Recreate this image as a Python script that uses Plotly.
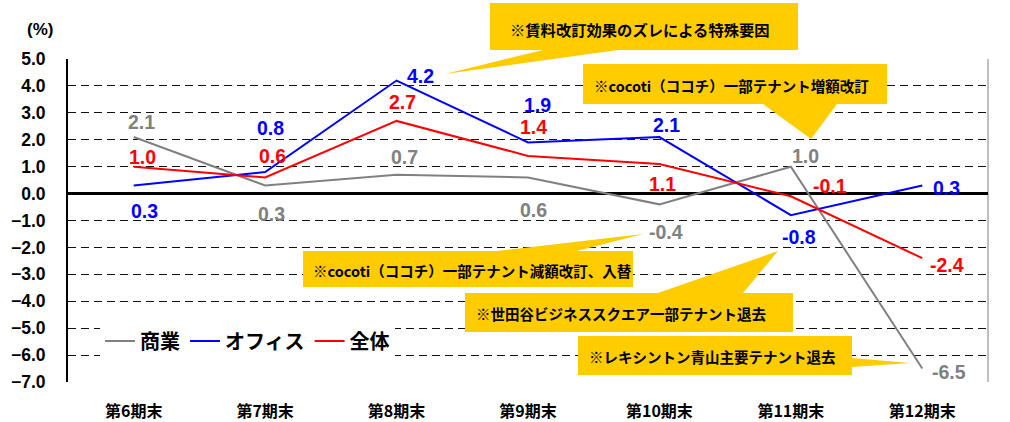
import plotly.graph_objects as go

# ---- data ----
categories = ["第6期末", "第7期末", "第8期末", "第9期末", "第10期末", "第11期末", "第12期末"]
commercial = [2.1, 0.3, 0.7, 0.6, -0.4, 1.0, -6.5]   # 商業
office = [0.3, 0.8, 4.2, 1.9, 2.1, -0.8, 0.3]        # オフィス
total = [1.0, 0.6, 2.7, 1.4, 1.1, -0.1, -2.4]        # 全体
series_names = ["商業", "オフィス", "全体"]
y_ticks = [5, 4, 3, 2, 1, 0, -1, -2, -3, -4, -5, -6, -7]
callout_texts = [
    "※賃料改訂効果のズレによる特殊要因",
    "※cocoti（ココチ）一部テナント増額改訂",
    "※cocoti（ココチ）一部テナント減額改訂、入替",
    "※世田谷ビジネススクエア一部テナント退去",
    "※レキシントン青山主要テナント退去",
]

# ---- style ----
W, H = 1010, 422
ML, MR, MT, MB = 68, 22, 59, 40
PW, PH = W - ML - MR, H - MT - MB
colors = ["#808080", "#0000FF", "#FF0000"]
LATIN = "Liberation Sans, Arial, Noto Sans CJK JP, sans-serif"
CJK = "Noto Sans CJK JP, sans-serif"

# label offsets (px) for each series' value labels
offsets = [
    [(8, -15), (6, 28), (8, -18), (5, 33), (7, 28), (15, -11), (27, 3)],
    [(11, 25), (5, -44), (24, -5), (9, -37), (7, -12), (8, 22), (24, 2)],
    [(9, -10), (7, -21), (6, -19), (5, -29), (3, 20), (39, -10), (25, 7)],
]

def px(x):
    return (x - ML) / PW

def py(y):
    return (H - MB - y) / PH

xs = list(range(len(categories)))
fig = go.Figure()
for name, vals, col in zip(series_names, [commercial, office, total], colors):
    fig.add_trace(go.Scatter(x=xs, y=vals, mode="lines", name=name,
                             line=dict(color=col, width=2)))

annotations = []
for vals, col, offs in zip([commercial, office, total], colors, offsets):
    for i, v in enumerate(vals):
        dx, dy = offs[i]
        annotations.append(dict(x=i, y=v, xref="x", yref="y", text=f"{v:.1f}",
                                showarrow=False, xshift=dx, yshift=-dy,
                                font=dict(family=LATIN, size=19.5, color=col, weight="bold")))

# callouts (pixel polygons, converted to paper coords)
callout_polys = [
    [(490, 3), (798, 3), (798, 50), (618, 50), (445, 74), (543, 50), (490, 50)],
    [(583, 64), (887, 64), (887, 104), (837, 104), (811, 139), (763, 104), (583, 104)],
    [(303, 251), (497, 251), (643, 234), (577, 251), (633, 251), (633, 287), (303, 287)],
    [(465, 293), (658, 293), (778, 251), (743, 293), (793, 293), (793, 332), (465, 332)],
    [(578, 336), (852, 336), (852, 358), (910, 363), (852, 367), (852, 375), (578, 375)],
]
callout_text_pos = [(508, 29), (592, 85), (311, 270), (474, 313), (587, 356)]
callout_sizes = [15.3, 14.5, 14.5, 14.5, 14.5]

shapes = []
for poly in callout_polys:
    path = "M" + " L".join(f"{px(x):.5f},{py(y):.5f}" for x, y in poly) + " Z"
    shapes.append(dict(type="path", path=path, xref="paper", yref="paper",
                       fillcolor="#FFCC00", line=dict(width=0), layer="above"))
for txt, (tx, ty), fs in zip(callout_texts, callout_text_pos, callout_sizes):
    annotations.append(dict(x=px(tx), y=py(ty), xref="paper", yref="paper", text=txt,
                            showarrow=False, xanchor="left", yanchor="middle",
                            font=dict(family=CJK, size=fs, color="black", weight="bold")))

# right border
shapes.append(dict(type="line", xref="paper", yref="paper", x0=1, x1=1, y0=0, y1=1,
                   line=dict(color="#808080", width=1), layer="below"))

annotations.append(dict(x=px(25), y=py(18), xref="paper", yref="paper", text="(%)",
                        showarrow=False, font=dict(family=LATIN, size=17, color="black", weight="bold")))

fig.update_layout(
    width=W, height=H,
    margin=dict(l=ML, r=MR, t=MT, b=MB, pad=0, autoexpand=False),
    paper_bgcolor="white", plot_bgcolor="white",
    showlegend=True,
    legend=dict(orientation="h", x=px(100), y=py(341), xanchor="left", yanchor="middle",
                bgcolor="white", font=dict(family=CJK, size=20, color="black", weight="bold"),
                itemwidth=30, tracegroupgap=0),
    shapes=shapes,
    annotations=annotations,
    xaxis=dict(range=[-0.5, 6.5], tickvals=xs, ticktext=categories, showgrid=False,
               zeroline=False, showline=False, ticks="", ticklabelstandoff=18, automargin=False,
               tickfont=dict(family=CJK, size=16, color="black", weight="bold"), fixedrange=True),
    yaxis=dict(range=[-7, 5], tickvals=y_ticks, tickformat=".1f", showgrid=True,
               gridcolor="#111111", gridwidth=1, griddash="8px,5px",
               zeroline=True, zerolinecolor="black", zerolinewidth=2.5,
               showline=True, linecolor="black", linewidth=2, mirror=False, ticks="",
               ticklabelstandoff=17, automargin=False,
               tickfont=dict(family=LATIN, size=17.5, color="black", weight="bold"), fixedrange=True),
)

fig.write_html("out.html", config={"displayModeBar": False},
               post_script="document.body.style.margin='0';document.body.style.overflow='hidden';")
